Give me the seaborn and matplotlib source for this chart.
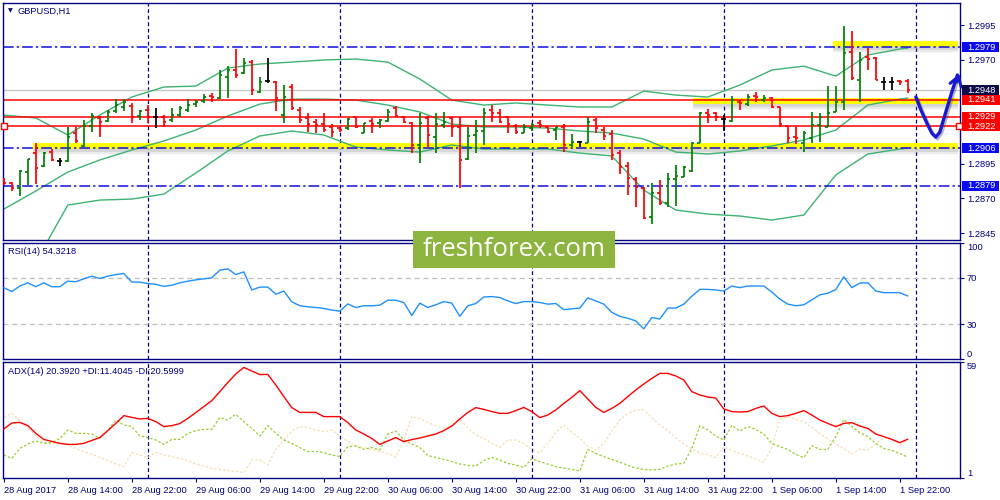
import numpy as np
import pandas as pd
import matplotlib
matplotlib.use("Agg")
import matplotlib.pyplot as plt
import matplotlib.patheffects as pe
from matplotlib.patches import Rectangle
import seaborn as sns

# ---------------- data ----------------
symbol = "GBPUSD,H1"
rsi_title = "RSI(14) 54.3218"
adx_title = "ADX(14) 20.3920 +DI:11.4045 -DI:20.5999"
x_tick_bars = list(range(0, 113, 8))
x_tick_labels = ["28 Aug 2017", "28 Aug 14:00", "28 Aug 22:00", "29 Aug 06:00", "29 Aug 14:00",
                 "29 Aug 22:00", "30 Aug 06:00", "30 Aug 14:00", "30 Aug 22:00", "31 Aug 06:00",
                 "31 Aug 14:00", "31 Aug 22:00", "1 Sep 06:00", "1 Sep 14:00", "1 Sep 22:00"]
day_breaks = [18, 42, 66, 90, 114]

opens = [
    1.28832, 1.28811, 1.28775, 1.28890, 1.29027, 1.28933, 1.29034, 1.28969, 1.28969, 1.29171,
    1.29077, 1.29222, 1.29279, 1.29258, 1.29330, 1.29359, 1.29366, 1.29294, 1.29337, 1.29287,
    1.29287, 1.29265, 1.29301, 1.29337, 1.29380, 1.29402, 1.29438, 1.29424, 1.29575, 1.29626,
    1.29604, 1.29683, 1.29467, 1.29546, 1.29539, 1.29301, 1.29503, 1.29337, 1.29279, 1.29251,
    1.29236, 1.29215, 1.29207, 1.29207, 1.29287, 1.29171, 1.29258, 1.29243, 1.29258, 1.29351,
    1.29287, 1.29243, 1.29085, 1.29279, 1.29142, 1.29229, 1.29279, 1.29215, 1.28984, 1.29157,
    1.29186, 1.29337, 1.29315, 1.29287, 1.29222, 1.29171, 1.29207, 1.29243, 1.29215, 1.29193,
    1.29215, 1.29085, 1.29106, 1.29099, 1.29265, 1.29193, 1.29164, 1.29027, 1.28933, 1.28840,
    1.28775, 1.28566, 1.28739, 1.28666, 1.28840, 1.28854, 1.28897, 1.29099, 1.29315, 1.29315,
    1.29272, 1.29258, 1.29395, 1.29380, 1.29438, 1.29409, 1.29424, 1.29359, 1.29222, 1.29142,
    1.29099, 1.29135, 1.29229, 1.29215, 1.29323, 1.29395, 1.29755, 1.29553, 1.29719, 1.29712,
    1.29539, 1.29539, 1.29546, 1.29546]
highs = [
    1.28847, 1.28818, 1.28904, 1.28984, 1.29099, 1.29034, 1.29056, 1.28991, 1.29215, 1.29215,
    1.29265, 1.29315, 1.29294, 1.29337, 1.29416, 1.29416, 1.29388, 1.29337, 1.29373, 1.29351,
    1.29301, 1.29351, 1.29366, 1.29416, 1.29409, 1.29452, 1.29460, 1.29626, 1.29654, 1.29777,
    1.29712, 1.29698, 1.29575, 1.29712, 1.29546, 1.29517, 1.29525, 1.29359, 1.29315, 1.29272,
    1.29315, 1.29236, 1.29215, 1.29279, 1.29287, 1.29243, 1.29279, 1.29272, 1.29344, 1.29366,
    1.29294, 1.29251, 1.29315, 1.29294, 1.29315, 1.29323, 1.29287, 1.29287, 1.29215, 1.29265,
    1.29351, 1.29373, 1.29344, 1.29294, 1.29236, 1.29236, 1.29243, 1.29265, 1.29215, 1.29215,
    1.29236, 1.29164, 1.29114, 1.29287, 1.29279, 1.29215, 1.29193, 1.29049, 1.28962, 1.28854,
    1.28782, 1.28811, 1.28832, 1.28883, 1.28940, 1.28933, 1.29106, 1.29323, 1.29344, 1.29323,
    1.29301, 1.29438, 1.29409, 1.29452, 1.29467, 1.29445, 1.29431, 1.29359, 1.29222, 1.29215,
    1.29186, 1.29323, 1.29315, 1.29510, 1.29510, 1.29943, 1.29907, 1.29755, 1.29784, 1.29719,
    1.29575, 1.29575, 1.29553, 1.29561]
lows = [
    1.28796, 1.28753, 1.28717, 1.28796, 1.28803, 1.28926, 1.28969, 1.28933, 1.28962, 1.29099,
    1.29070, 1.29178, 1.29142, 1.29251, 1.29315, 1.29330, 1.29243, 1.29265, 1.29243, 1.29207,
    1.29215, 1.29251, 1.29287, 1.29323, 1.29359, 1.29388, 1.29395, 1.29416, 1.29424, 1.29568,
    1.29597, 1.29445, 1.29460, 1.29532, 1.29330, 1.29243, 1.29337, 1.29243, 1.29178, 1.29171,
    1.29178, 1.29142, 1.29178, 1.29193, 1.29207, 1.29171, 1.29171, 1.29207, 1.29251, 1.29287,
    1.29243, 1.29027, 1.28955, 1.29070, 1.29027, 1.29207, 1.29142, 1.28775, 1.28977, 1.29027,
    1.29085, 1.29251, 1.29243, 1.29171, 1.29164, 1.29171, 1.29186, 1.29207, 1.29171, 1.29121,
    1.29034, 1.29070, 1.29070, 1.29099, 1.29171, 1.29121, 1.28977, 1.28876, 1.28724, 1.28638,
    1.28551, 1.28515, 1.28652, 1.28638, 1.28645, 1.28854, 1.28890, 1.29099, 1.29243, 1.29258,
    1.29186, 1.29251, 1.29337, 1.29366, 1.29395, 1.29395, 1.29351, 1.29215, 1.29099, 1.29092,
    1.29034, 1.29099, 1.29106, 1.29215, 1.29323, 1.29337, 1.29553, 1.29395, 1.29626, 1.29553,
    1.29481, 1.29481, 1.29517, 1.29460]
closes = [
    1.28811, 1.28775, 1.28897, 1.28984, 1.28919, 1.29027, 1.28977, 1.28969, 1.29142, 1.29114,
    1.29222, 1.29294, 1.29251, 1.29323, 1.29373, 1.29395, 1.29287, 1.29330, 1.29287, 1.29287,
    1.29251, 1.29301, 1.29351, 1.29373, 1.29395, 1.29431, 1.29431, 1.29589, 1.29626, 1.29589,
    1.29676, 1.29481, 1.29539, 1.29546, 1.29424, 1.29431, 1.29351, 1.29265, 1.29236, 1.29229,
    1.29193, 1.29178, 1.29193, 1.29272, 1.29215, 1.29243, 1.29236, 1.29265, 1.29323, 1.29294,
    1.29251, 1.29085, 1.29243, 1.29157, 1.29236, 1.29251, 1.29215, 1.28977, 1.29150, 1.29186,
    1.29315, 1.29315, 1.29251, 1.29236, 1.29178, 1.29215, 1.29229, 1.29229, 1.29178, 1.29215,
    1.29085, 1.29106, 1.29106, 1.29251, 1.29207, 1.29150, 1.29013, 1.28926, 1.28847, 1.28782,
    1.28558, 1.28739, 1.28666, 1.28840, 1.28861, 1.28926, 1.29099, 1.29315, 1.29301, 1.29287,
    1.29272, 1.29409, 1.29388, 1.29431, 1.29431, 1.29424, 1.29359, 1.29236, 1.29135, 1.29135,
    1.29171, 1.29229, 1.29287, 1.29315, 1.29395, 1.29748, 1.29568, 1.29698, 1.29705, 1.29553,
    1.29539, 1.29539, 1.29539, 1.29481]

band_bars = [0, 4, 8, 12, 16, 20, 24, 28, 32, 36, 40, 44, 48, 52, 56, 60, 64, 68, 72, 76,
             80, 84, 88, 92, 96, 100, 104, 108, 112, 113]
bb_upper = [1.29301, 1.29280, 1.29157, 1.29301, 1.29431, 1.29503, 1.29510, 1.29640, 1.29669, 1.29683,
            1.29698, 1.29705, 1.29683, 1.29561, 1.29409, 1.29373, 1.29388, 1.29373, 1.29359, 1.29359,
            1.29474, 1.29445, 1.29431, 1.29517, 1.29626, 1.29654, 1.29582, 1.29734, 1.29777, 1.29784]
bb_middle = [1.28623, 1.28753, 1.28890, 1.28977, 1.29049, 1.29114, 1.29193, 1.29294, 1.29380, 1.29416,
             1.29416, 1.29409, 1.29373, 1.29323, 1.29236, 1.29215, 1.29215, 1.29207, 1.29186, 1.29171,
             1.29128, 1.29034, 1.29020, 1.29042, 1.29078, 1.29121, 1.29193, 1.29373, 1.29416, 1.29424]
bb_lower = [1.27967, 1.28241, 1.28652, 1.28688, 1.28695, 1.28731, 1.28883, 1.29042, 1.29150, 1.29186,
            1.29157, 1.29070, 1.29049, 1.29034, 1.29085, 1.29056, 1.29056, 1.29056, 1.29027, 1.29006,
            1.28760, 1.28616, 1.28587, 1.28573, 1.28544, 1.28580, 1.28869, 1.29020, 1.29056, 1.29063]

rsi = [61.5, 58.1, 62.9, 65.7, 62.3, 65.7, 62.3, 62.3, 67.1, 66.6,
       69.1, 71.4, 69.4, 71.4, 72.8, 73.7, 66.3, 66.3, 65.1, 64.4,
       62.6, 63.6, 65.7, 67.1, 68.2, 69.1, 70.0, 76.5, 77.7, 72.8,
       75.1, 59.5, 62.0, 62.0, 55.8, 58.6, 49.3, 45.9, 45.0, 44.4,
       43.6, 42.2, 41.3, 47.5, 44.4, 45.9, 45.9, 46.4, 50.7, 50.7,
       48.7, 37.5, 48.2, 44.4, 46.7, 49.5, 48.2, 36.8, 45.9, 47.8,
       53.5, 53.8, 53.0, 50.1, 47.8, 49.5, 49.5, 48.7, 47.3, 47.8,
       42.5, 43.3, 43.9, 52.7, 50.1, 47.3, 40.2, 36.8, 35.1, 32.8,
       26.0, 35.7, 34.5, 43.9, 43.9, 47.3, 54.1, 60.0, 60.0, 59.5,
       58.6, 62.9, 61.5, 62.9, 62.9, 62.9, 57.8, 51.6, 47.3, 45.9,
       46.7, 51.0, 55.3, 56.7, 59.8, 70.9, 61.5, 65.4, 65.7, 58.6,
       57.2, 57.2, 57.2, 54.3]
adx = [25.5, 28.5, 28.8, 27.2, 23.3, 20.3, 19.3, 18.3, 17.8, 17.8,
       18.3, 19.8, 21.2, 24.7, 28.3, 32.2, 31.3, 30.5, 30.8, 29.2,
       26.7, 27.2, 28.2, 30.8, 33.7, 36.7, 39.7, 44.2, 48.7, 53.0,
       56.3, 54.5, 52.7, 52.8, 47.5, 41.7, 36.2, 33.8, 33.8, 33.8,
       31.7, 31.7, 31.7, 28.7, 25.0, 23.0, 20.8, 17.8, 19.5, 21.2,
       19.2, 20.2, 21.0, 22.0, 23.0, 24.7, 27.0, 30.5, 33.8, 36.2,
       35.3, 34.2, 33.3, 33.3, 34.7, 36.3, 34.2, 31.2, 32.5, 35.0,
       38.3, 41.3, 44.7, 40.5, 36.3, 33.8, 35.8, 38.3, 41.7, 45.0,
       48.0, 50.8, 53.3, 53.3, 52.0, 50.0, 44.2, 42.5, 41.5, 41.0,
       35.5, 34.2, 34.0, 34.2, 35.8, 37.0, 33.3, 31.7, 32.2, 33.3,
       34.7, 32.5, 30.0, 28.3, 26.7, 28.3, 28.7, 27.0, 25.8, 23.0,
       21.7, 20.3, 18.7, 20.4]
plus_di = [12.5, 10.8, 15.8, 18.0, 19.5, 18.3, 18.8, 20.8, 25.0, 23.3,
           23.3, 23.0, 20.8, 24.7, 30.0, 27.5, 26.7, 22.0, 21.3, 20.0,
           17.8, 20.3, 20.3, 23.3, 24.7, 25.3, 25.3, 31.3, 30.0, 32.8,
           29.2, 25.8, 22.0, 27.2, 23.3, 20.0, 18.3, 16.2, 14.2, 14.3,
           13.7, 12.5, 11.7, 16.7, 17.0, 15.3, 16.3, 15.0, 23.0, 24.5,
           20.0, 18.0, 16.3, 12.2, 11.3, 10.3, 9.2, 8.0, 7.3, 7.0,
           9.7, 11.3, 10.0, 8.3, 7.5, 6.3, 10.7, 9.2, 8.0, 6.7,
           6.0, 5.3, 4.5, 15.3, 13.3, 11.7, 10.3, 9.0, 7.3, 6.0,
           5.3, 5.0, 5.3, 7.0, 8.0, 8.3, 15.8, 27.0, 25.0, 22.0,
           20.0, 27.3, 24.5, 26.7, 25.3, 23.0, 18.3, 16.7, 15.3, 12.8,
           11.2, 17.2, 15.3, 15.3, 21.7, 30.3, 26.7, 23.7, 21.7, 18.3,
           15.7, 14.8, 13.3, 11.4]
minus_di = [31.3, 33.3, 29.5, 26.2, 22.0, 18.7, 17.8, 18.8, 17.5, 15.8,
            14.2, 12.8, 11.3, 9.7, 8.0, 6.7, 13.8, 12.5, 11.2, 13.8,
            12.5, 11.7, 10.7, 9.7, 8.0, 7.0, 5.8, 5.3, 4.8, 4.3,
            3.7, 10.0, 10.0, 7.5, 15.3, 20.0, 24.5, 26.7, 26.3, 25.0,
            24.2, 25.0, 22.0, 19.3, 17.3, 16.3, 15.3, 14.2, 13.2, 11.3,
            20.0, 31.7, 30.8, 28.7, 27.2, 25.8, 26.7, 30.5, 25.8, 22.5,
            20.8, 18.3, 16.3, 20.0, 20.0, 18.3, 15.3, 13.7, 18.3, 23.7,
            27.5, 23.8, 20.8, 17.0, 15.0, 18.3, 24.5, 30.0, 33.3, 35.0,
            35.0, 31.2, 27.5, 24.7, 21.2, 18.0, 15.5, 13.5, 12.7, 11.2,
            16.7, 14.7, 13.3, 12.0, 10.5, 8.7, 16.3, 30.3, 31.7, 30.3,
            29.2, 26.3, 23.3, 20.5, 18.0, 15.8, 12.8, 15.5, 15.0, 17.8,
            21.3, 20.5, 17.5, 20.6]

price_ticks = [1.2995, 1.2970, 1.2895, 1.2870, 1.2845]
red_levels = [1.2941, 1.2929, 1.2922]
blue_levels = [1.2979, 1.2906, 1.2879]
bid_price = 1.2948
yellow_levels = [1.29815, 1.29402, 1.29078]
yellow_start = [103.6, 86.2, 3.6]
rsi_levels = [70, 30]
rsi_ticks = [0, 30, 70, 100]
adx_ticks = [1, 59]
arrow_bars = [114.0, 114.75, 115.5, 116.0, 116.5, 117.0, 117.75, 118.5, 119.2]
arrow_prices = [1.29431, 1.29323, 1.29229, 1.29171, 1.29142, 1.29178, 1.29323, 1.29467, 1.29590]
watermark = "freshforex.com"

# ---------------- style ----------------
sns.set_theme(style="white")
plt.rcParams['font.family'] = ['Liberation Sans', 'DejaVu Sans']
NAVY = '#000080'
FS = 6.7
XLIM = (-0.1, 119.525)

fig = plt.figure(figsize=(10, 5), dpi=100)
fig.patch.set_facecolor('white')
W, H = 1000.0, 500.0


def rect(x0, y0, x1, y1):
    return [x0 / W, 1 - y1 / H, (x1 - x0) / W, (y1 - y0) / H]


ax = fig.add_axes(rect(3, 3, 960, 240))
ax_r = fig.add_axes(rect(3, 243, 960, 359), sharex=ax)
ax_a = fig.add_axes(rect(3, 362, 960, 478), sharex=ax)

for a in (ax, ax_r, ax_a):
    a.set_facecolor('white')
    for s in a.spines.values():
        s.set_color(NAVY)
        s.set_linewidth(1.0)
    a.yaxis.tick_right()
    a.tick_params(axis='y', which='both', direction='out', length=3, width=0.8,
                  color=NAVY, labelcolor=NAVY, labelsize=FS, pad=2,
                  left=False, right=True, labelleft=False, labelright=True)
    for d in day_breaks:
        a.axvline(d, color=NAVY, ls=(0, (3, 2.2)), lw=0.9, zorder=1)

n = len(closes)
idx = np.arange(n)
o = np.array(opens); h = np.array(highs); l = np.array(lows); c = np.array(closes)

# ---------------- main panel ----------------
band = pd.DataFrame({'bar': band_bars, 'upper': bb_upper, 'middle': bb_middle, 'lower': bb_lower})
for col in ['upper', 'middle', 'lower']:
    sns.lineplot(data=band, x='bar', y=col, ax=ax, color='#3CB371', lw=1.0, zorder=2)

# yellow highlights with soft shadow
for lv, xs in zip(yellow_levels, yellow_start):
    ax.plot([xs, 119.3], [lv, lv], color='#FFFF00', lw=4.2, zorder=1.6,
            solid_capstyle='butt',
            path_effects=[pe.SimpleLineShadow(offset=(0, -2.0), shadow_color='#808080',
                                              alpha=0.16, linewidth=7.5),
                          pe.SimpleLineShadow(offset=(0, -1.5), shadow_color='#808080',
                                              alpha=0.18, linewidth=5.0),
                          pe.Normal()])

ax.axhline(bid_price, color='#C8C8C8', lw=1.0, zorder=1.5)
for lv in red_levels:
    ax.axhline(lv, color='#FF0000', lw=1.1, zorder=2.2)
for lv in blue_levels:
    ax.axhline(lv, color='#1010E0', lw=1.1, ls=(0, (7, 2, 1.5, 2)), zorder=2.2)

colors = np.where(c > o, '#008000', np.where(c < o, '#FF0000', '#000000'))
ax.vlines(idx, l, h, colors=colors, lw=1.25, zorder=3)
ax.hlines(o, idx - 0.32, idx, colors=colors, lw=1.25, zorder=3)
ax.hlines(c, idx, idx + 0.32, colors=colors, lw=1.25, zorder=3)

# hand drawn forecast arrow
ax.plot(arrow_bars, arrow_prices, color='#1A1AD2', lw=2.4, zorder=4, clip_on=False,
        solid_capstyle='round', solid_joinstyle='round',
        path_effects=[pe.SimpleLineShadow(offset=(1.2, -1.2), alpha=0.3), pe.Normal()])
ax.annotate('', xy=(119.55, 1.29618), xytext=(119.0, 1.29520),
            arrowprops=dict(arrowstyle='->,head_length=0.55,head_width=0.35',
                            color='#1A1AD2', lw=2.2), annotation_clip=False, zorder=4)

# small line anchors
ax.plot([0.05, 119.35], [red_levels[2]] * 2, ls='none', marker='s', ms=3.8, mfc='white',
        mec='#FF0000', mew=1.0, clip_on=False, zorder=5)

ax.set_ylim(1.28400, 1.30109)
ax.set_yticks(price_ticks)
ax.set_yticklabels([f"{p:.4f}" for p in price_ticks])


def price_box(a, price, fc, w=0.039):
    hh = 0.00072
    a.add_patch(Rectangle((1.002, price - hh / 2), w, hh, transform=a.get_yaxis_transform(),
                          fc=fc, ec='none', clip_on=False, zorder=6))
    a.text(1.0075, price, f"{price:.4f}", transform=a.get_yaxis_transform(), color='white',
           fontsize=FS, va='center', ha='left', zorder=7, clip_on=False)


price_box(ax, blue_levels[0], '#0A0AEE')
price_box(ax, bid_price, '#0C0C48')
for lv in red_levels:
    price_box(ax, lv, '#FF0000', w=0.0415)
price_box(ax, blue_levels[1], '#0A0AEE')
price_box(ax, blue_levels[2], '#0A0AEE')

# ---------------- RSI panel ----------------
sns.lineplot(x=idx, y=rsi, ax=ax_r, color='#1E90FF', lw=1.0, zorder=3)
for lv in rsi_levels:
    ax_r.axhline(lv, color='#BEBEBE', ls=(0, (4, 3)), lw=0.9, zorder=1)
ax_r.set_ylim(0, 100)
ax_r.set_yticks(rsi_ticks)
ax_r.set_yticklabels([str(t) for t in rsi_ticks])
for lab in ax_r.get_yticklabels():
    if lab.get_text() == '100':
        lab.set_va('top')
    elif lab.get_text() == '0':
        lab.set_va('bottom')

# ---------------- ADX panel ----------------
sns.lineplot(x=idx, y=minus_di, ax=ax_a, color='#F5DEB3', lw=0.9, linestyle=(0, (2, 1.5)), zorder=2)
sns.lineplot(x=idx, y=plus_di, ax=ax_a, color='#9ACD32', lw=0.9, linestyle=(0, (2, 1.5)), zorder=2.5)
sns.lineplot(x=idx, y=adx, ax=ax_a, color='#FF0000', lw=1.0, zorder=3)
ax_a.set_ylim(1, 59)
ax_a.set_yticks(adx_ticks)
ax_a.set_yticklabels([str(t) for t in adx_ticks])
for lab in ax_a.get_yticklabels():
    if lab.get_text() == '59':
        lab.set_va('top')
    else:
        lab.set_va('bottom')

for a in (ax, ax_r, ax_a):
    a.set_xlabel('')
    a.set_ylabel('')
    a.set_xlim(*XLIM)
    a.grid(False)

ax.tick_params(axis='x', bottom=False, labelbottom=False)
ax_r.tick_params(axis='x', bottom=False, labelbottom=False)
ax_a.set_xticks(x_tick_bars)
ax_a.set_xticklabels(x_tick_labels)
ax_a.tick_params(axis='x', direction='out', length=3, width=0.8, color=NAVY,
                 labelcolor=NAVY, labelsize=FS, pad=3, bottom=True, labelbottom=True)
for lab in ax_a.get_xticklabels():
    lab.set_ha('left')

# ---------------- texts ----------------
fig.text(0.0075, 1 - 11 / H, '\u25BC', fontsize=4.5, color=NAVY, va='center', ha='left',
         family=['DejaVu Sans'])
fig.text(0.018, 1 - 11 / H, symbol, fontsize=FS, color=NAVY, va='center', ha='left')
fig.text(0.008, 1 - 252 / H, rsi_title, fontsize=FS, color=NAVY, va='center', ha='left')
fig.text(0.008, 1 - 372 / H, adx_title, fontsize=FS, color=NAVY, va='center', ha='left')

# watermark
fig.add_artist(Rectangle((413 / W, 1 - 268 / H), 202 / W, 37 / H, transform=fig.transFigure,
                         fc='#8DB43E', ec='none', zorder=10))
fig.text(514 / W, 1 - 250 / H, watermark, fontsize=18.5, color='white', ha='center',
         va='center', family=['Open Sans', 'DejaVu Sans'], zorder=11)

fig.savefig('out.png', dpi=100, facecolor='white')
